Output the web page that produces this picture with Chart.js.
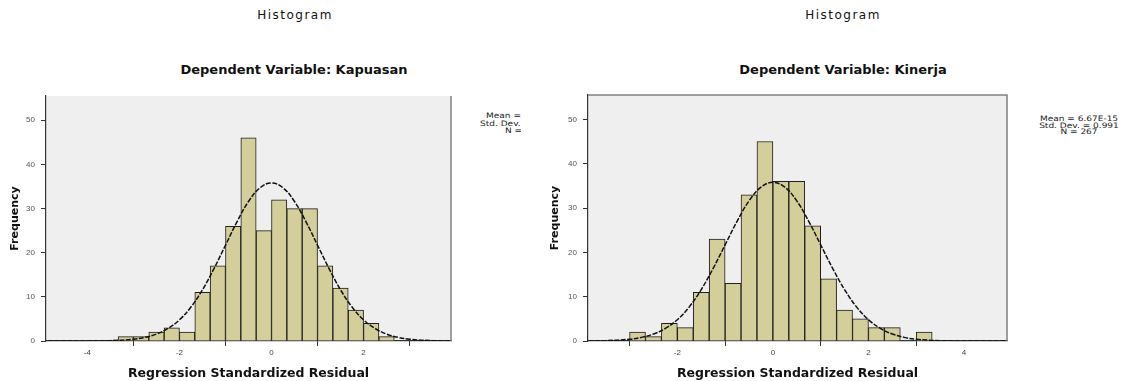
<!DOCTYPE html>
<html><head><meta charset="utf-8">
<script src="https://cdn.jsdelivr.net/npm/chart.js@4.4.1/dist/chart.umd.min.js"></script>
<style>
html,body{margin:0;padding:0;background:#fff;width:1127px;height:381px;overflow:hidden;font-family:"DejaVu Sans",sans-serif;}
canvas{position:absolute;}
.t{position:absolute;white-space:nowrap;color:#111;line-height:1;}
.ctr{transform:translateX(-50%);}
.h{font-size:12px;letter-spacing:1.5px;}
.s{font-size:13px;font-weight:bold;}
.clip{position:absolute;overflow:hidden;}
.ll{position:absolute;font-size:7.5px;line-height:1;color:#222;white-space:nowrap;transform:scaleX(1.2);transform-origin:0 0;}
.leg{position:absolute;font-size:7.5px;line-height:6.6px;color:#222;white-space:nowrap;text-align:center;transform:scaleX(1.2);transform-origin:50% 0;}
</style></head><body>
<div class="t ctr h" style="left:295px;top:9px">Histogram</div>
<div class="t ctr h" style="left:843px;top:9px">Histogram</div>
<div class="t ctr s" style="left:294px;top:63px">Dependent Variable: Kapuasan</div>
<div class="t ctr s" style="left:843px;top:63px">Dependent Variable: Kinerja</div>
<div class="clip" style="left:460px;top:105px;width:61px;height:40px;">
  <div class="ll" style="left:26px;top:7px">Mean = 6.67E-15</div>
  <div class="ll" style="left:20px;top:14.5px">Std. Dev. = 0.991</div>
  <div class="ll" style="left:45px;top:22px">N = 267</div>
</div>
<div class="leg" style="left:1029px;top:116px;width:100px;">Mean = 6.67E-15<br>Std. Dev. = 0.991<br>N = 267</div>
<canvas id="c1" width="560" height="321" style="left:0;top:60px"></canvas>
<canvas id="c2" width="587" height="321" style="left:540px;top:60px"></canvas>
<script>
// ---- data ----
const leftBins   = [-3.1667,-2.8333,-2.5,-2.1667,-1.8333,-1.5,-1.1667,-0.8333,-0.5,-0.1667,0.1667,0.5,0.8333,1.1667,1.5,1.8333,2.1667,2.5];
const leftCounts = [1,1,2,3,2,11,17,26,46,25,32,30,30,17,12,7,4,1];
const rightBins   = [-2.8333,-2.5,-2.1667,-1.8333,-1.5,-1.1667,-0.8333,-0.5,-0.1667,0.1667,0.5,0.8333,1.1667,1.5,1.8333,2.1667,2.5,2.8333,3.1667];
const rightCounts = [2,1,4,3,11,23,13,33,45,36,36,26,14,7,5,3,3,0,2];
// normal curve (same shape in both panels)
const curveX = [-5,-4.5,-4,-3.5,-3,-2.75,-2.5,-2.25,-2,-1.75,-1.5,-1.25,-1,-0.75,-0.5,-0.25,0,0.25,0.5,0.75,1,1.25,1.5,1.75,2,2.25,2.5,2.75,3,3.5,4,4.5,5];
const curveY = [0,0,0.01,0.08,0.4,0.82,1.57,2.85,4.8,7.7,11.6,16.4,21.7,27.0,31.6,34.7,35.8,34.7,31.6,27.0,21.7,16.4,11.6,7.7,4.8,2.85,1.57,0.82,0.4,0.08,0.01,0,0];
const leftTickValues  = [-4,-2,0,2];
const leftTickLabels  = ['-4','-2','0','2'];
const rightTickValues = [-2,0,2,4];
const rightTickLabels = ['-2','0','2','4'];
const yTickValues = [0,10,20,30,40,50];

const frame = {
  id:'frame',
  beforeDraw(chart, args, o){
    const {ctx, chartArea:a} = chart;
    ctx.save(); ctx.fillStyle = '#EFEFEF';
    ctx.fillRect(a.left, a.top, a.right-a.left, a.bottom-a.top); ctx.restore();
  },
  afterDraw(chart, args, o){
    const {ctx, chartArea:a} = chart;
    ctx.save(); ctx.strokeStyle = '#808080'; ctx.lineWidth = 1.5;
    ctx.beginPath();
    ctx.moveTo(a.right, a.bottom); ctx.lineTo(a.right, a.top);
    if (o.top) ctx.lineTo(a.left, a.top);
    ctx.stroke(); ctx.restore();
  }
};

function make(id, bins, counts, xmin, xmax, tv, tl, padTop, padRight, yW){
  const tickFont = {family:'Liberation Sans', size:8};
  const titleFont = {family:'DejaVu Sans', size:12.5, weight:'bold'};
  return new Chart(document.getElementById(id), {
    type:'bar',
    data:{datasets:[
      {type:'line', data: curveX.map((x,i)=>({x, y:curveY[i]})), borderColor:'#111', borderWidth:1.5,
       borderDash:[5,1.5], pointRadius:0, tension:0.4, fill:false, order:0},
      {data: bins.map((x,i)=>({x, y:counts[i]})), backgroundColor:'#D4CE9B', borderColor:'#1e1e1e',
       borderWidth:1, barPercentage:1, categoryPercentage:1, order:1}
    ]},
    options:{
      responsive:false, animation:false, devicePixelRatio:1,
      layout:{padding:{top:padTop, right:padRight, left:0, bottom:0}},
      plugins:{legend:{display:false}, tooltip:{enabled:false}, frame:{top: id==='c2'}},
      scales:{
        x:{type:'linear', min:xmin, max:xmax, offset:false,
          afterBuildTicks: s => { s.ticks = tv.map(v=>({value:v})); },
          afterFit: s => { s.height = 40; },
          ticks:{autoSkip:false, maxRotation:0, padding:2, font:tickFont, color:'#444',
                 callback:(v,i)=> tl[i]},
          grid:{drawOnChartArea:false, drawTicks:true, tickLength:5, color:'#333'},
          border:{display:true, color:'#333', width:1.2},
          title:{display:true, text:'Regression Standardized Residual', font:titleFont, color:'#111', padding:{top:0,bottom:0}}
        },
        y:{min:0, max:55.5,
          afterBuildTicks: s => { s.ticks = yTickValues.map(v=>({value:v})); },
          afterFit: s => { s.width = yW; },
          ticks:{padding:6, font:tickFont, color:'#555'},
          grid:{drawOnChartArea:false, drawTicks:true, tickLength:5, color:'#333'},
          border:{display:true, color:'#333', width:1.2},
          title:{display:true, text:'Frequency', font:{family:'DejaVu Sans', size:11, weight:'bold'}, color:'#111', padding:{top:9,bottom:0}}
        }
      }
    },
    plugins:[frame]
  });
}
make('c1', leftBins, leftCounts, -4.9, 3.9, leftTickValues, leftTickLabels, 36, 109, 46);
make('c2', rightBins, rightCounts, -3.87, 4.9, rightTickValues, rightTickLabels, 35, 120, 48);
</script>
</body></html>
